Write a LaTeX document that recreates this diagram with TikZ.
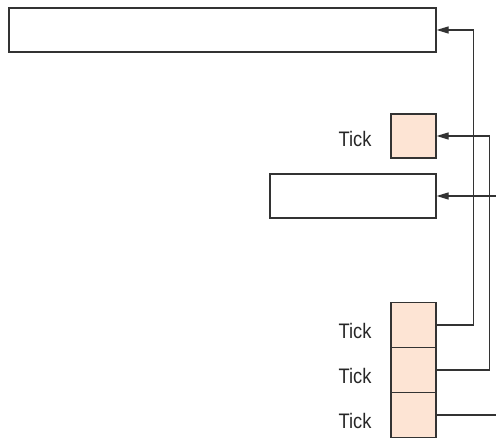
\documentclass[tikz,border=0pt]{standalone}
\usepackage{fontspec}
\setmainfont{Liberation Sans}
\usetikzlibrary{arrows.meta}
\definecolor{linec}{HTML}{333333}
\definecolor{peach}{HTML}{FDE4D4}
\begin{document}
\begin{tikzpicture}[x=1pt,y=-1pt,
  box/.style={draw=linec,line width=1.2pt,fill=white,inner sep=0pt,minimum height=44pt},
  tickbox/.style={box,fill=peach,minimum width=45pt},
  lbl/.style={font=\fontsize{21}{21}\selectfont,xscale=0.87,text=black!85,inner sep=0pt},
  conn/.style={draw=linec,line width=1.2pt},
  arr/.style={conn,-{Triangle[length=12pt,width=7pt]}}]
\useasboundingbox (0,0) rectangle (496,438);
\node[box,minimum width=427pt] (top) at (222.5,30) {};
\node[tickbox] (t1) at (413.5,136) {};
\node[box,minimum width=166pt] (mid) at (353,196) {};
\node[tickbox,minimum height=45pt] (s1) at (413.5,325) {};
\node[tickbox,minimum height=45pt] (s2) at (413.5,370) {};
\node[tickbox,minimum height=45pt] (s3) at (413.5,415) {};
\node[lbl] (l1) at (355,139) {Tick};
\node[lbl] (l2) at (355,331) {Tick};
\node[lbl] (l3) at (355,376) {Tick};
\node[lbl] (l4) at (355,421) {Tick};
\coordinate (inmid) at (497,196);
\coordinate (out3) at (497,415);
\draw[arr] (s1.east) -- ++(37,0) |- (top.east);
\draw[arr] (s2.east) -- ++(53,0) |- (t1.east);
\draw[arr] (inmid) -- (mid.east);
\draw[conn] (s3.east) -- (out3);
\end{tikzpicture}
\end{document}
